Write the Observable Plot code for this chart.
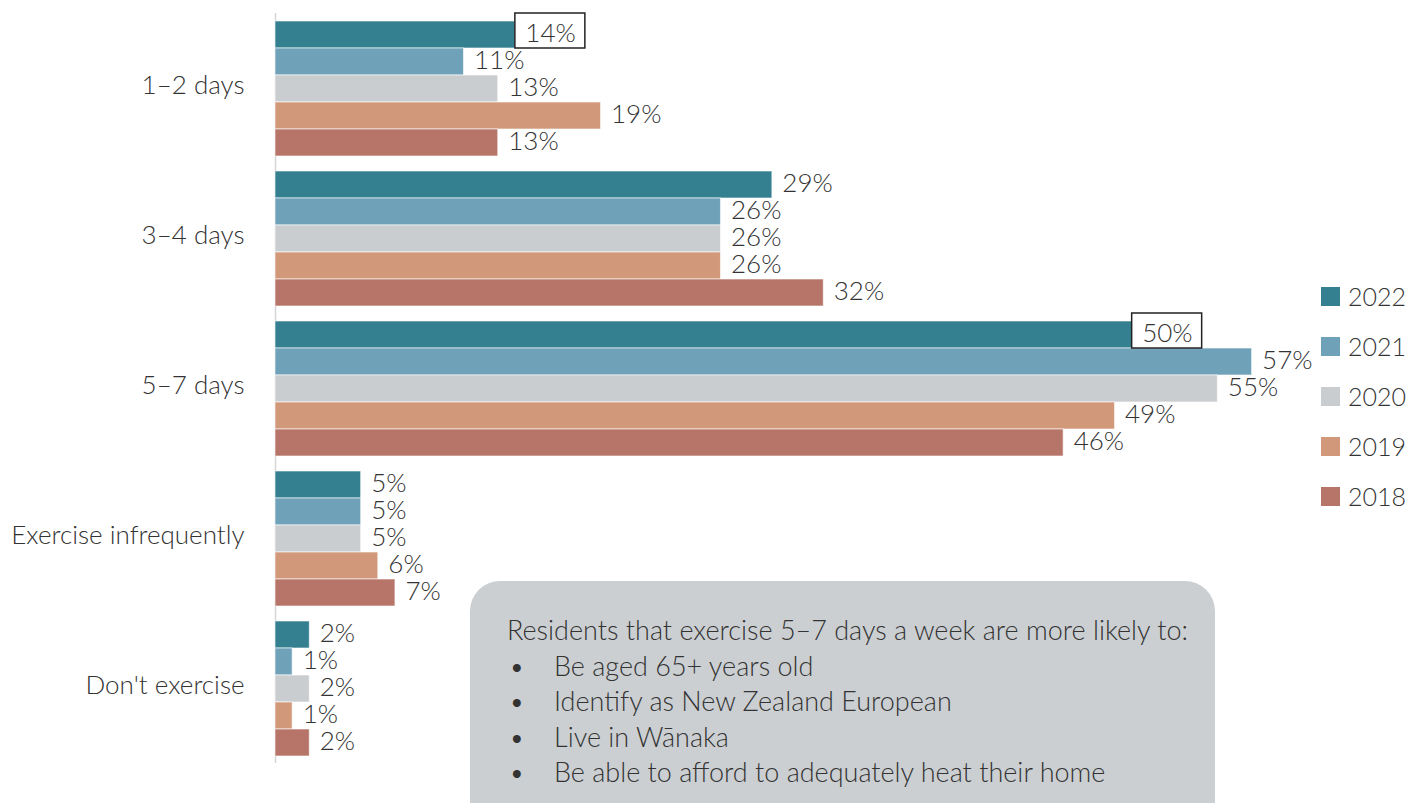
<!DOCTYPE html>
<html>
<head>
<meta charset="utf-8">
<script src="https://cdn.jsdelivr.net/npm/d3@7"></script>
<script src="https://cdn.jsdelivr.net/npm/@observablehq/plot@0.6"></script>
<style>
  html, body { margin: 0; padding: 0; background: #fff; }
  #wrap { position: relative; width: 1417px; height: 803px; overflow: hidden; font-family: Lato, sans-serif; font-weight: 300; color: #333; }
  #chart { position: absolute; left: 0; top: 0; }
  #legend { position: absolute; left: 1321px; top: 271px; }
  .lg-row { display: flex; align-items: center; height: 50px; font-size: 25px; }
  .lg-sw { width: 19px; height: 19px; margin-right: 8px; }
  #note { position: absolute; left: 470px; top: 581px; width: 745px; height: 260px; background: #cbcfd2; border-radius: 30px; box-sizing: border-box; padding: 31px 0 0 37px; font-size: 27px; line-height: 35.5px; color: #333; }
  #note ul { margin: 0; padding: 0; list-style: none; }
  #note li { position: relative; padding-left: 47px; }
  #note li::before { content: "\2022"; position: absolute; left: 2px; top: 0; }
</style>
</head>
<body>
<div id="wrap">
  <div id="chart"></div>
  <div id="legend"></div>
  <div id="note"></div>
</div>
<script>
const categories = ["1–2 days", "3–4 days", "5–7 days", "Exercise infrequently", "Don't exercise"];
const years = ["2022", "2021", "2020", "2019", "2018"];
const colors = ["#347f90", "#6fa2b9", "#cacdd0", "#d1997a", "#b77469"];
const values2022 = [14, 29, 50, 5, 2];
const values2021 = [11, 26, 57, 5, 1];
const values2020 = [13, 26, 55, 5, 2];
const values2019 = [19, 26, 49, 6, 1];
const values2018 = [13, 32, 46, 7, 2];
const highlighted = [["1–2 days", "2022"], ["5–7 days", "2022"]];
const noteTitle = "Residents that exercise 5–7 days a week are more likely to:";
const noteItems = ["Be aged 65+ years old", "Identify as New Zealand European", "Live in Wānaka", "Be able to afford to adequately heat their home"];

const series = [values2022, values2021, values2020, values2019, values2018];
const data = [];
categories.forEach((c, i) => {
  years.forEach((y, j) => data.push({cat: c, year: y, value: series[j][i]}));
});
const hl = data.filter(d => highlighted.some(([c, y]) => c === d.cat && y === d.year));

const font = "Lato, sans-serif";
const plot = Plot.plot({
  width: 1417,
  height: 803,
  marginLeft: 275,
  marginRight: 114,
  marginTop: 19,
  marginBottom: 46,
  style: {fontFamily: font, fontWeight: 300, background: "transparent"},
  x: {domain: [0, 60], axis: null},
  y: {domain: years, axis: null, paddingInner: 0, paddingOuter: 0},
  fy: {domain: categories, paddingInner: 0.0933, paddingOuter: 0, label: null},
  color: {domain: years, range: colors},
  marks: [
    Plot.ruleX([0], {stroke: "#d6d6d6", strokeWidth: 1.5, insetTop: -7, insetBottom: -7}),
    Plot.barX(data, {x: "value", y: "year", fy: "cat", fill: "year", stroke: "#fff", strokeOpacity: 0.6, strokeWidth: 1}),
    Plot.rect(hl, {x1: "value", x2: "value", y: "year", fy: "cat", fill: "#fff", stroke: "#222", strokeWidth: 1.5, insetRight: -70, insetTop: -8, insetBottom: 0}),
    Plot.text(data, {x: "value", y: "year", fy: "cat", text: d => d.value + "%", dx: 10, dy: -1, textAnchor: "start", fontSize: 26, fill: "#333", fontWeight: 300}),
    Plot.axisFy({anchor: "left", tickSize: 0, tickPadding: 31, dy: -3, fontSize: 26, fontWeight: 300, fill: "#333", label: null})
  ]
});
document.getElementById("chart").appendChild(plot);

const color = plot.scale("color");
const legend = d3.select("#legend");
years.forEach((y, i) => {
  const row = legend.append("div").attr("class", "lg-row");
  row.append("div").attr("class", "lg-sw").style("background", color.range[i]);
  row.append("span").text(y);
});

const note = d3.select("#note");
note.append("div").text(noteTitle);
note.append("ul").selectAll("li").data(noteItems).join("li").text(d => d);
</script>
</body>
</html>
